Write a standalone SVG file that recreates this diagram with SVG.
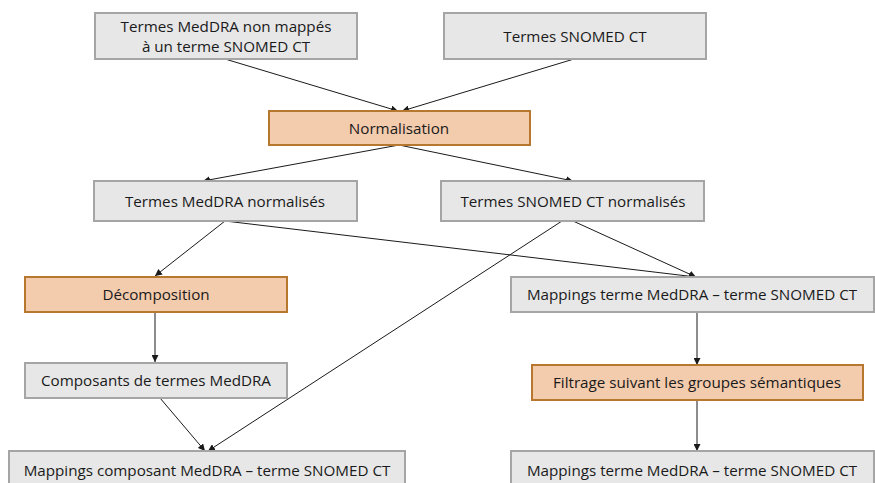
<svg xmlns="http://www.w3.org/2000/svg" width="875" height="483" viewBox="0 0 875 483">
<style>
.g{fill:#e7e7e7;stroke:#a5a5a5;stroke-width:2}
.o{fill:#f3cbad;stroke:#b7772f;stroke-width:2}
text{font-family:"Open Sans","Liberation Sans",sans-serif;font-size:15.2px;fill:#1a1a1a;text-anchor:middle}
.c line{stroke:#1a1a1a;stroke-width:1;marker-end:url(#a)}
</style>
<defs>
<marker id="a" viewBox="0 0 10 10" refX="10" refY="5" markerWidth="7" markerHeight="7" markerUnits="userSpaceOnUse" orient="auto">
<path d="M0,0L10,5L0,10z" fill="#1a1a1a"/>
</marker>
</defs>
<rect width="875" height="483" fill="#fff"/>
<g class="c">
<line x1="225" y1="59" x2="398" y2="111"/>
<line x1="574" y1="59" x2="402" y2="111"/>
<line x1="399" y1="145" x2="203" y2="181"/>
<line x1="399" y1="145" x2="573" y2="181"/>
<line x1="225" y1="221" x2="155" y2="276"/>
<line x1="225" y1="221" x2="696" y2="277"/>
<line x1="573" y1="221" x2="696" y2="277"/>
<line x1="562" y1="221" x2="208" y2="451"/>
<line x1="155" y1="312" x2="155" y2="362"/>
<line x1="160" y1="398" x2="205" y2="451"/>
<line x1="697" y1="312" x2="697" y2="365"/>
<line x1="697" y1="400" x2="697" y2="451"/>
</g>
<g id="n1"><rect class="g" x="95" y="13" width="262" height="46"/><text x="226" y="32">Termes MedDRA non mappés</text><text x="226" y="52">à un terme SNOMED CT</text></g>
<g id="n2"><rect class="g" x="444" y="13" width="262" height="46"/><text x="575" y="42">Termes SNOMED CT</text></g>
<g id="n3"><rect class="o" x="269" y="111" width="261" height="34"/><text x="399" y="134">Normalisation</text></g>
<g id="n4"><rect class="g" x="94" y="181" width="263" height="40"/><text x="225" y="207">Termes MedDRA normalisés</text></g>
<g id="n5"><rect class="g" x="441" y="181" width="263" height="40"/><text x="573" y="207">Termes SNOMED CT normalisés</text></g>
<g id="n6"><rect class="o" x="25" y="277" width="262" height="35"/><text x="156" y="300">Décomposition</text></g>
<g id="n7"><rect class="g" x="511" y="277" width="363" height="35"/><text x="692" y="300">Mappings terme MedDRA – terme SNOMED CT</text></g>
<g id="n8"><rect class="g" x="25" y="363" width="262" height="35"/><text x="156" y="386">Composants de termes MedDRA</text></g>
<g id="n9"><rect class="o" x="532" y="365" width="331" height="35"/><text x="697" y="388">Filtrage suivant les groupes sémantiques</text></g>
<g id="n10"><rect class="g" x="9" y="451" width="396" height="40"/><text x="207" y="476">Mappings composant MedDRA – terme SNOMED CT</text></g>
<g id="n11"><rect class="g" x="511" y="451" width="363" height="40"/><text x="692" y="476">Mappings terme MedDRA – terme SNOMED CT</text></g>
</svg>
